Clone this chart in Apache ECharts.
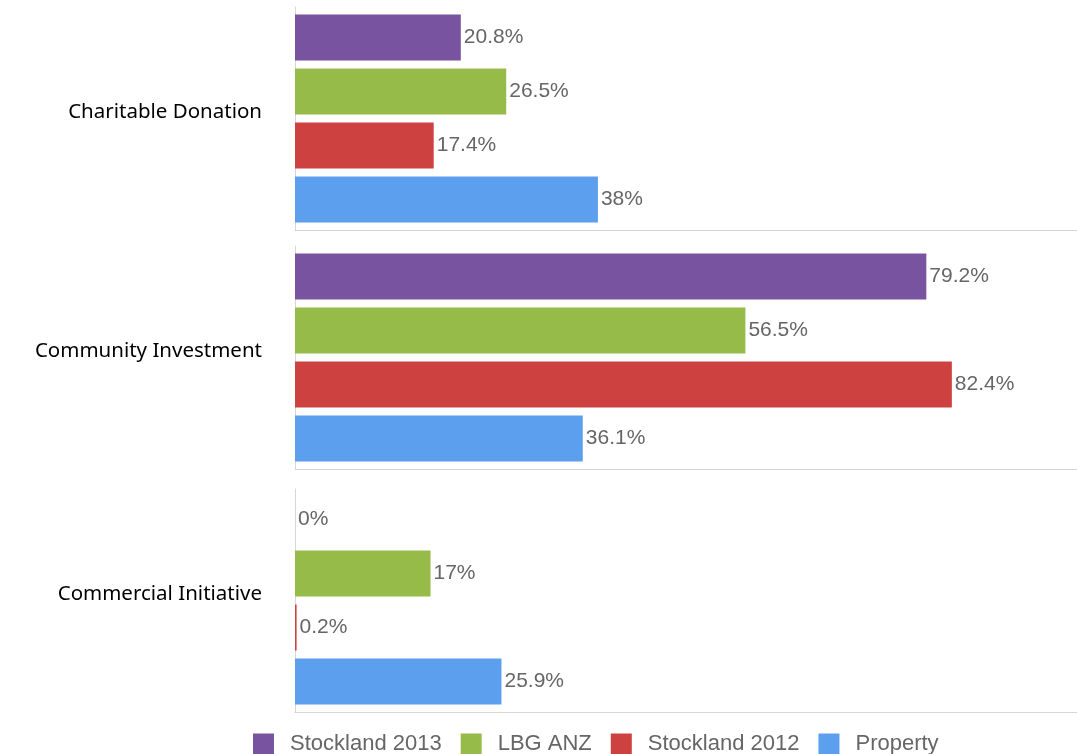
<!DOCTYPE html>
<html>
<head>
<meta charset="utf-8">
<script src="https://cdn.jsdelivr.net/npm/echarts@6/dist/echarts.min.js"></script>
<style>
  html, body { margin: 0; padding: 0; background: #fff; }
  #chart { width: 1077px; height: 754px; }
</style>
</head>
<body>
<div id="chart"></div>
<script>
// Share of spend by contribution type (%)
const categories = ['Charitable Donation', 'Community Investment', 'Commercial Initiative'];
const seriesNames = ['Stockland 2013', 'LBG ANZ', 'Stockland 2012', 'Property'];
const stockland2013 = [20.8, 79.2, 0];
const lbgAnz = [26.5, 56.5, 17];
const stockland2012 = [17.4, 82.4, 0.2];
const property = [38, 36.1, 25.9];

const seriesValues = [stockland2013, lbgAnz, stockland2012, property];
const colors = ['#7853a0', '#97bb48', '#cd4240', '#5c9fef'];

// one panel per category, stacked vertically
const panelTops = [7, 246, 489];
const panelHeight = 223;
const lineColor = '#d6d6d6';

const grids = [], xAxes = [], yAxes = [], series = [];
categories.forEach((cat, i) => {
  grids.push({ left: 295, right: 0, top: panelTops[i], height: panelHeight });
  xAxes.push({
    gridIndex: i, type: 'value', min: 0, max: 98.1, position: 'bottom',
    axisLine: { show: true, lineStyle: { color: lineColor, width: 1 } },
    axisTick: { show: false }, axisLabel: { show: false }, splitLine: { show: false }
  });
  yAxes.push({
    gridIndex: i, type: 'category', data: [cat], inverse: true,
    axisLine: { show: true, lineStyle: { color: lineColor, width: 1 } },
    axisTick: { show: false },
    axisLabel: {
      margin: 33, color: '#000', fontSize: 20.5, fontFamily: 'Noto Sans',
      lineHeight: 12, verticalAlign: 'bottom'
    }
  });
  seriesValues.forEach((vals, j) => {
    series.push({
      type: 'bar', name: seriesNames[j], xAxisIndex: i, yAxisIndex: i,
      data: [vals[i]], barWidth: 46, barGap: '17.4%',
      itemStyle: { color: colors[j] },
      label: {
        show: true, position: 'right', distance: 3,
        formatter: '{c}%', color: '#666', fontSize: 21, fontFamily: 'Liberation Sans'
      },
      animation: false
    });
  });
});

const chart = echarts.init(document.getElementById('chart'));
chart.setOption({
  animation: false,
  color: colors,
  grid: grids,
  xAxis: xAxes,
  yAxis: yAxes,
  legend: {
    data: seriesNames, left: 248, top: 728,
    icon: 'rect', itemWidth: 21, itemHeight: 21, itemGap: 19,
    textStyle: { color: '#666', fontSize: 22, fontFamily: 'Liberation Sans', padding: [0, 0, 0, 11] }
  },
  series: series
});
</script>
</body>
</html>
